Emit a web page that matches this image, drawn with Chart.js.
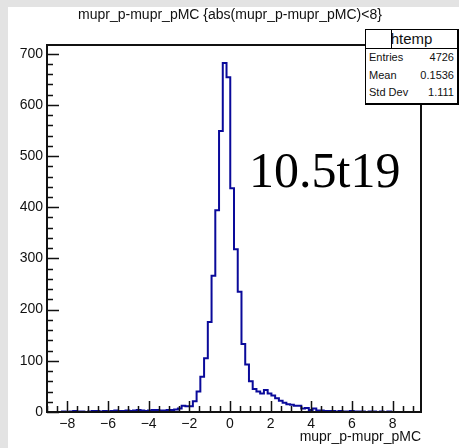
<!DOCTYPE html>
<html>
<head>
<meta charset="utf-8">
<script src="https://cdn.jsdelivr.net/npm/chart.js@4.4.1/dist/chart.umd.min.js"></script>
<style>
  html, body { margin: 0; padding: 0; }
  body { width: 459px; height: 448px; background: #e3e3e3; position: relative; overflow: hidden;
         font-family: "Liberation Sans", Arial, sans-serif; color: #111; }
  #pad { position: absolute; left: 8px; top: 7px; right: 0; bottom: 0; background: #fff; }
  #wrap { position: absolute; left: 0; top: 0; width: 459px; height: 448px; }
  .txt { position: absolute; white-space: nowrap; }
  #title { left: 0; width: 460px; top: 6px; text-align: center; font-size: 14px; }
  #xtitle { right: 38px; top: 428px; font-size: 14px; }
  #note { left: 249px; top: 141px; font-family: "Liberation Serif", "DejaVu Serif", serif; font-size: 50px; color: #000; }
  #stats { position: absolute; left: 365px; top: 29px; width: 91px; height: 73px; background: #fff;
           border: 1px solid #000; border-right-width: 2px; border-bottom-width: 2px; font-size: 11px; }
  #stats .head { height: 18px; border-bottom: 1px solid #000; text-align: center; font-size: 15px; line-height: 18px; position: relative; }
  #stats .head i { position: absolute; left: 25px; top: 0; width: 1px; height: 18px; background: #000; }
  #stats .row { position: relative; height: 17.5px; line-height: 17.5px; }
  #stats .row span { position: absolute; left: 3px; }
  #stats .row b { position: absolute; right: 3px; font-weight: normal; }
</style>
</head>
<body>
<div id="pad"></div>
<div id="wrap"><canvas id="c" width="459" height="448"></canvas></div>
<div class="txt" id="title">mupr_p-mupr_pMC {abs(mupr_p-mupr_pMC)&lt;8}</div>
<div class="txt" id="xtitle">mupr_p-mupr_pMC</div>
<div class="txt" id="note">10.5t19</div>
<div id="stats">
  <div class="head"><i></i>htemp</div>
  <div class="row"><span>Entries</span><b>4726</b></div>
  <div class="row"><span>Mean</span><b>0.1536</b></div>
  <div class="row"><span>Std Dev</span><b>1.111</b></div>
</div>
<script>
// histogram: 100 bins on [-9, 9.4]
const X_MIN = -9.0;
const X_MAX = 9.4;
const Y_MAX = 717;

const counts = [
  0, 0, 0, 0, 0, 1, 0, 1, 2, 1,
  1, 0, 1, 2, 2, 1, 2, 1, 2, 3,
  2, 2, 3, 2, 3, 4, 3, 2, 3, 4,
  4, 3, 3, 4, 4, 5, 7, 12, 11, 11,
  21, 40, 69, 105, 176, 266, 394, 549, 682, 654,
  437, 318, 235, 133, 93, 60, 45, 40, 36, 43,
  36, 32, 27, 22, 18, 15, 14, 12, 12, 7,
  8, 4, 7, 3, 3, 2, 2, 2, 1, 2,
  1, 1, 2, 1, 1, 1, 0, 1, 1, 0,
  1, 0, 1, 0, 0, 0, 0, 0, 0, 0,
];

const xTicks = [-8, -6, -4, -2, 0, 2, 4, 6, 8];
const yTicks = [0, 100, 200, 300, 400, 500, 600, 700];

const binW = (X_MAX - X_MIN) / counts.length;
const steps = counts.map((v, i) => ({ x: X_MIN + i * binW, y: v }));
steps.push({ x: X_MAX, y: counts[counts.length - 1] });

const LINE = '#111';

// ROOT-style frame with inward ticks
const frame = {
  id: 'frame',
  afterDatasetsDraw(chart) {
    const { ctx, chartArea: a, scales: { x, y } } = chart;
    ctx.save();
    ctx.strokeStyle = LINE;
    ctx.lineWidth = 1.5;
    ctx.beginPath();
    for (let v = -9; v <= X_MAX + 1e-6; v += 0.5) {
      const px = Math.round(x.getPixelForValue(v)) + 0.5;
      const len = xTicks.includes(v) ? 11 : 6;
      ctx.moveTo(px, a.bottom); ctx.lineTo(px, a.bottom - len);
    }
    for (let v = 0; v <= Y_MAX; v += 20) {
      const py = Math.round(y.getPixelForValue(v)) + 0.5;
      const len = v % 100 === 0 ? 12 : 6;
      ctx.moveTo(a.left, py); ctx.lineTo(a.left + len, py);
    }
    ctx.stroke();
    ctx.lineWidth = 2;
    ctx.strokeRect(a.left, a.top, a.right - a.left, a.bottom - a.top);
    ctx.restore();
  },
};

new Chart(document.getElementById('c'), {
  type: 'line',
  data: {
    datasets: [{
      data: steps,
      stepped: 'after',
      borderColor: '#0a0a9a',
      borderWidth: 2,
      pointRadius: 0,
      fill: false,
    }],
  },
  options: {
    responsive: false, animation: false,
    layout: { padding: { left: 0, top: 45, right: 38, bottom: 0 } },
    plugins: { legend: { display: false }, tooltip: { enabled: false } },
    scales: {
      x: {
        type: 'linear', min: X_MIN, max: X_MAX,
        grid: { display: false, drawTicks: false }, border: { display: false },
        afterBuildTicks: s => { s.ticks = xTicks.map(v => ({ value: v })); },
        afterFit: s => { s.height = 36; },
        ticks: { padding: 4, color: '#111', maxRotation: 0, autoSkip: false,
                 font: { family: 'Liberation Sans', size: 14 },
                 callback: v => (v < 0 ? '\u2212' + Math.abs(v) : String(v)) },
      },
      y: {
        type: 'linear', min: 0, max: Y_MAX,
        grid: { display: false, drawTicks: false }, border: { display: false },
        afterBuildTicks: s => { s.ticks = yTicks.map(v => ({ value: v })); },
        afterFit: s => { s.width = 47; },
        ticks: { padding: 4, color: '#111', font: { family: 'Liberation Sans', size: 14 } },
      },
    },
  },
  plugins: [frame],
});
</script>
</body>
</html>
